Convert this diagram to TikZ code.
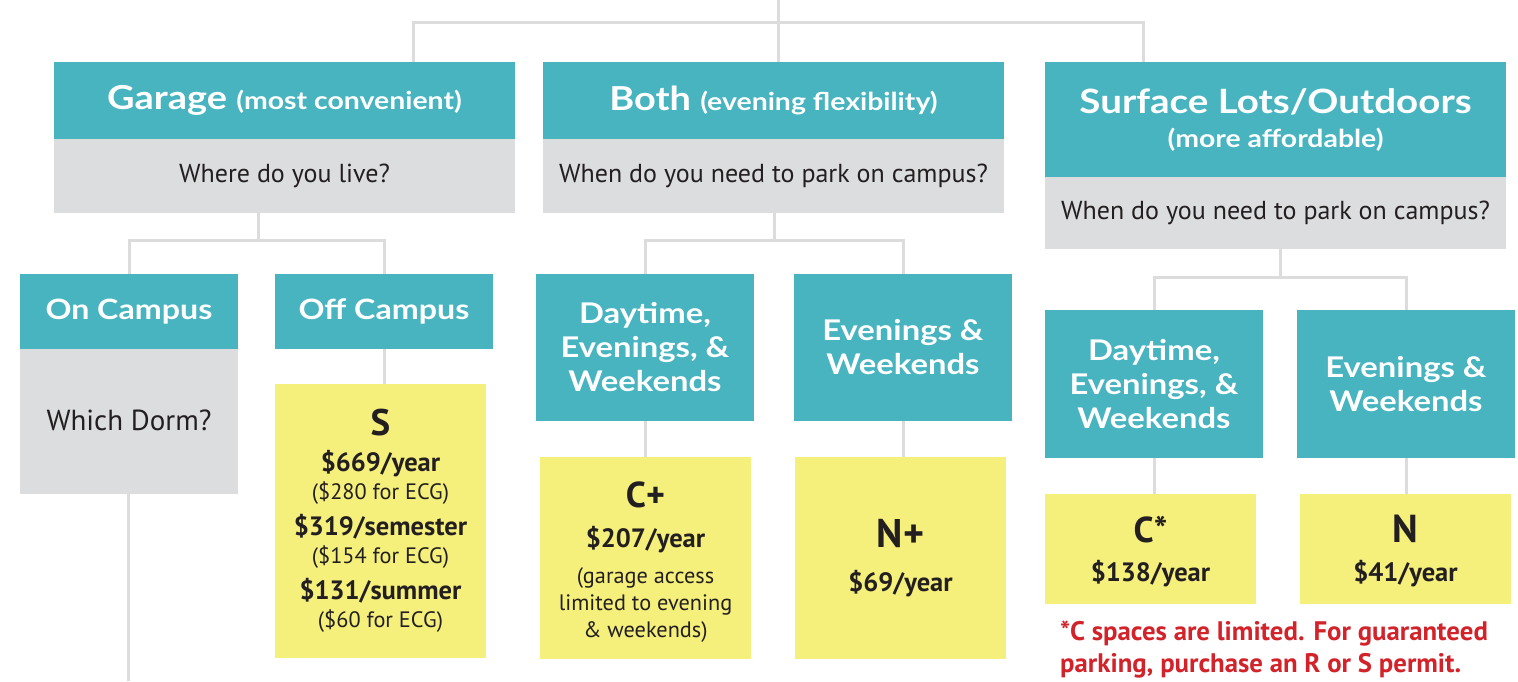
\documentclass[tikz,border=0pt]{standalone}
\usepackage{fontspec}
\setmainfont{PT Sans}
\newfontfamily\hdfont{Lato}[FakeStretch=1.15]
\definecolor{tealc}{HTML}{47B4C0}
\definecolor{grayc}{HTML}{DCDDDF}
\definecolor{yelc}{HTML}{F5EF7B}
\definecolor{linec}{HTML}{DCDCDC}
\definecolor{txtc}{HTML}{231F20}
\definecolor{redc}{HTML}{D2232A}
\tikzset{
  box/.style={inner sep=0pt, outer sep=0pt, align=center},
  hdr/.style={box, fill=tealc, text=white, font=\hdfont\bfseries\fontsize{28.5}{34}\selectfont},
  qbox/.style={box, fill=grayc, text=txtc, font=\fontsize{26}{30}\selectfont},
  pbox/.style={box, fill=yelc, text=txtc, font=\fontsize{22.3}{27}\selectfont},
  ptext/.style={box, text=txtc, font=\fontsize{22.3}{27}\selectfont},
  conn/.style={draw=linec, line width=3pt, line join=miter},
}
\newcommand{\permitltr}[2][36]{{\bfseries\fontsize{#1}{36}\selectfont #2}}
\newcommand{\prc}[1]{{\bfseries\fontsize{26.5}{28}\selectfont #1}}
\newcommand{\paren}[1]{{\fontsize{22.3}{26}\selectfont #1}}
\newcommand{\hparen}[1]{{\fontsize{24.7}{26}\selectfont #1}}
\begin{document}
\begin{tikzpicture}[x=1pt,y=-1pt]
\useasboundingbox (0,0) rectangle (1518,681);
% level 1
\node[hdr, minimum width=461pt, minimum height=77pt] (garage) at (284.5,100.5)
  {\fontsize{33}{34}\selectfont Garage \hparen{(most convenient)}};
\node[qbox, minimum width=461pt, minimum height=74pt] (garageQ) at (284.5,176) {Where do you live?};
\node[hdr, minimum width=461pt, minimum height=77pt] (both) at (773.5,100.5)
  {\fontsize{33}{34}\selectfont Both \hparen{(evening flexibility)}};
\node[qbox, minimum width=461pt, minimum height=74pt] (bothQ) at (773.5,176) {When do you need to park on campus?};
\node[hdr, minimum width=461pt, minimum height=115pt] (surface) at (1275.5,119.5)
  {\fontsize{33.5}{32}\selectfont Surface Lots/Outdoors\\ \hparen{(more affordable)}};
\node[qbox, minimum width=461pt, minimum height=72pt] (surfaceQ) at (1275.5,213) {When do you need to park on campus?};
% garage children
\node[hdr, minimum width=218pt, minimum height=75pt, font=\hdfont\bfseries\fontsize{28}{34}\selectfont] (oncampus) at (129,311.5) {On Campus};
\node[qbox, minimum width=218pt, minimum height=145pt, font=\fontsize{29}{30}\selectfont] (dorm) at (129,421.5) {\raisebox{2pt}{Which Dorm?}};
\node[hdr, minimum width=218pt, minimum height=75pt, font=\hdfont\bfseries\fontsize{28}{34}\selectfont] (offcampus) at (384,311.5) {Off Campus};
\node[pbox, minimum width=211pt, minimum height=274pt] (sbox) at (380.5,521)
  {\permitltr[37]{S}\\[9pt] \prc{\$669/year}\\[1pt] \paren{(\$280 for ECG)}\\[9pt]
   \prc{\$319/semester}\\[1pt] \paren{(\$154 for ECG)}\\[9pt]
   \prc{\$131/summer}\\[1pt] \paren{(\$60 for ECG)}};
% both children
\node[hdr, minimum width=218pt, minimum height=147pt] (day1) at (645,347.5) {Daytime,\\Evenings, \&\\Weekends};
\node[hdr, minimum width=218pt, minimum height=147pt] (eve1) at (903,347.5) {Evenings \&\\Weekends};
\node[pbox, minimum width=211pt, minimum height=202pt] (cplus) at (645.5,558) {};
\node[ptext] (cplusT) at ([yshift=-4pt]cplus.center)
  {\permitltr{C+}\\[13pt] \prc{\$207/year}\\[9pt] (garage access\\ limited to evening\\ \& weekends)};
\node[pbox, minimum width=211pt, minimum height=202pt] (nplus) at (900.5,558)
  {\permitltr[40]{N+}\\[17pt] \prc{\$69/year}};
% surface children
\node[hdr, minimum width=218pt, minimum height=148pt] (day2) at (1154,384) {Daytime,\\Evenings, \&\\Weekends};
\node[hdr, minimum width=218pt, minimum height=148pt] (eve2) at (1406,384) {Evenings \&\\Weekends};
\node[pbox, minimum width=211pt, minimum height=110pt] (cstar) at (1150.5,549) {};
\node[ptext] (cstarT) at ([yshift=-2.5pt]cstar.center)
  {\permitltr{C*}\\[12pt] \prc{\$138/year}};
\node[pbox, minimum width=211pt, minimum height=110pt] (nbox) at (1405.5,549) {};
\node[ptext] (nboxT) at ([yshift=-1.5pt]nbox.center)
  {\permitltr[39]{N}\\[12pt] \prc{\$41/year}};
\node[anchor=base west, inner sep=0pt, align=left, text=redc,
  font=\bfseries\fontsize{26.8}{32}\selectfont] (note) at (1060,672)
  {*C spaces are limited. For guaranteed\\parking, purchase an R or S permit.};
% connectors
\coordinate (root) at (778,0);
\coordinate (d1) at (413,22);
\coordinate (d2) at (778,22);
\coordinate (d3) at (1143,22);
\draw[conn] (root) -- (d2);
\draw[conn] (d1 |- garage.north) -- (d1) -- (d3) -- (d3 |- surface.north);
\draw[conn] (d2) -- (d2 |- both.north);
\coordinate (g1) at (258,240);
\draw[conn] (g1 |- garageQ.south) -- (g1);
\draw[conn] (oncampus.north) |- (g1) -| (offcampus.north);
\draw[conn] (offcampus.south) -- (offcampus.south |- sbox.north);
\coordinate (dormend) at (128,681);
\draw[conn] (dormend |- dorm.south) -- (dormend);
\coordinate (b1) at (774,240);
\draw[conn] (b1 |- bothQ.south) -- (b1);
\draw[conn] (day1.north) |- (b1) -| (eve1.north);
\draw[conn] (day1.south) -- (day1.south |- cplus.north);
\draw[conn] (eve1.south) -- (eve1.south |- nplus.north);
\coordinate (s1) at (1280,277);
\draw[conn] (s1 |- surfaceQ.south) -- (s1);
\draw[conn] (day2.north) |- (s1) -| (eve2.north);
\draw[conn] (day2.south) -- (day2.south |- cstar.north);
\draw[conn] (eve2.south) -- (eve2.south |- nbox.north);
\end{tikzpicture}
\end{document}
